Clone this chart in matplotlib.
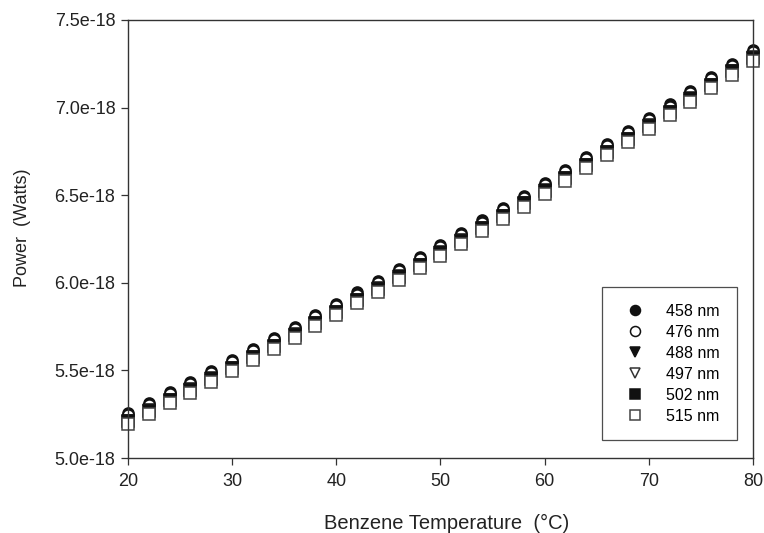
import numpy as np
import matplotlib
matplotlib.use('Agg')
import matplotlib.pyplot as plt

plt.rcParams['font.family'] = ['Liberation Sans', 'DejaVu Sans']

# benzene temperature, deg C
temps = [20, 22, 24, 26, 28, 30, 32, 34, 36, 38, 40, 42, 44, 46, 48, 50,
         52, 54, 56, 58, 60, 62, 64, 66, 68, 70, 72, 74, 76, 78, 80]

# power, units of 1e-18 W
p458 = [5.256, 5.315, 5.375, 5.436, 5.497, 5.559, 5.622, 5.685, 5.749, 5.814, 5.879,
        5.945, 6.012, 6.079, 6.147, 6.216, 6.286, 6.356, 6.427, 6.498, 6.570, 6.643,
        6.717, 6.791, 6.866, 6.942, 7.018, 7.095, 7.173, 7.251, 7.330]
p476 = [5.244, 5.303, 5.363, 5.424, 5.485, 5.547, 5.610, 5.673, 5.737, 5.802, 5.867,
        5.933, 6.000, 6.067, 6.135, 6.204, 6.274, 6.344, 6.415, 6.486, 6.558, 6.631,
        6.705, 6.779, 6.854, 6.930, 7.006, 7.083, 7.161, 7.239, 7.318]
p488 = [5.213, 5.272, 5.332, 5.393, 5.454, 5.516, 5.579, 5.642, 5.706, 5.771, 5.836,
        5.902, 5.969, 6.036, 6.104, 6.173, 6.243, 6.313, 6.384, 6.455, 6.527, 6.600,
        6.674, 6.748, 6.823, 6.899, 6.975, 7.052, 7.130, 7.208, 7.287]
p497 = [5.207, 5.266, 5.326, 5.387, 5.448, 5.510, 5.573, 5.636, 5.700, 5.765, 5.830,
        5.896, 5.963, 6.030, 6.098, 6.167, 6.237, 6.307, 6.378, 6.449, 6.521, 6.594,
        6.668, 6.742, 6.817, 6.893, 6.969, 7.046, 7.124, 7.202, 7.281]
p502 = [5.211, 5.270, 5.330, 5.391, 5.452, 5.514, 5.577, 5.640, 5.704, 5.769, 5.834,
        5.900, 5.967, 6.034, 6.102, 6.171, 6.241, 6.311, 6.382, 6.453, 6.525, 6.598,
        6.672, 6.746, 6.821, 6.897, 6.973, 7.050, 7.128, 7.206, 7.285]
p515 = [5.193, 5.252, 5.312, 5.373, 5.434, 5.496, 5.559, 5.622, 5.686, 5.751, 5.816,
        5.882, 5.949, 6.016, 6.084, 6.153, 6.223, 6.293, 6.364, 6.435, 6.507, 6.580,
        6.654, 6.728, 6.803, 6.879, 6.955, 7.032, 7.110, 7.188, 7.267]

labels = ['458 nm', '476 nm', '488 nm', '497 nm', '502 nm', '515 nm']
series = [p458, p476, p488, p497, p502, p515]
markers = ['o', 'o', 'v', 'v', 's', 's']
filled = [True, False, True, False, True, False]
edges = ['#111111', '#111111', '#111111', '#333333', '#111111', '#444444']

xticks = [20, 30, 40, 50, 60, 70, 80]
yticks = [5.0, 5.5, 6.0, 6.5, 7.0, 7.5]

fig = plt.figure(figsize=(7.64, 5.33), dpi=100)
ax = fig.add_axes([0.1675, 0.1407, 0.8181, 0.8218])

for lab, vals, m, f, ec in zip(labels, series, markers, filled, edges):
    ax.plot(temps, np.array(vals) * 1e-18, ls='none', marker=m, ms=8.0,
            mfc='#111111' if f else 'white', mec=ec,
            mew=1.1, label=lab, clip_on=False)

ax.set_xlim(20, 80)
ax.set_ylim(5.0e-18, 7.5e-18)
ax.set_xticks(xticks)
ax.set_xticklabels([str(t) for t in xticks])
ax.set_yticks([v * 1e-18 for v in yticks])
ax.set_yticklabels(['%.1fe-18' % v for v in yticks])

for s in ax.spines.values():
    s.set_color('#333333')
    s.set_linewidth(1.0)

ax.tick_params(axis='both', direction='out', length=5, width=0.9, color='#333333',
               labelsize=13, labelcolor='#222222', pad=4)
ax.tick_params(axis='x', pad=6)

ax.set_xlabel('Benzene Temperature  (\u00b0C)', fontsize=14.5, color='#222222')
ax.set_ylabel('Power  (Watts)', fontsize=13, color='#222222')
ax.xaxis.set_label_coords(0.51, -0.128)
ax.yaxis.set_label_coords(-0.155, 0.525)

leg = ax.legend(loc='lower right', bbox_to_anchor=(0.987, 0.022), fontsize=11.5,
                frameon=True, fancybox=False, numpoints=1, handletextpad=1.0,
                borderpad=1.05, labelspacing=0.37, markerscale=0.9)
leg.get_frame().set_edgecolor('#222222')
leg.get_frame().set_linewidth(0.9)

plt.savefig('out.png', dpi=100)
